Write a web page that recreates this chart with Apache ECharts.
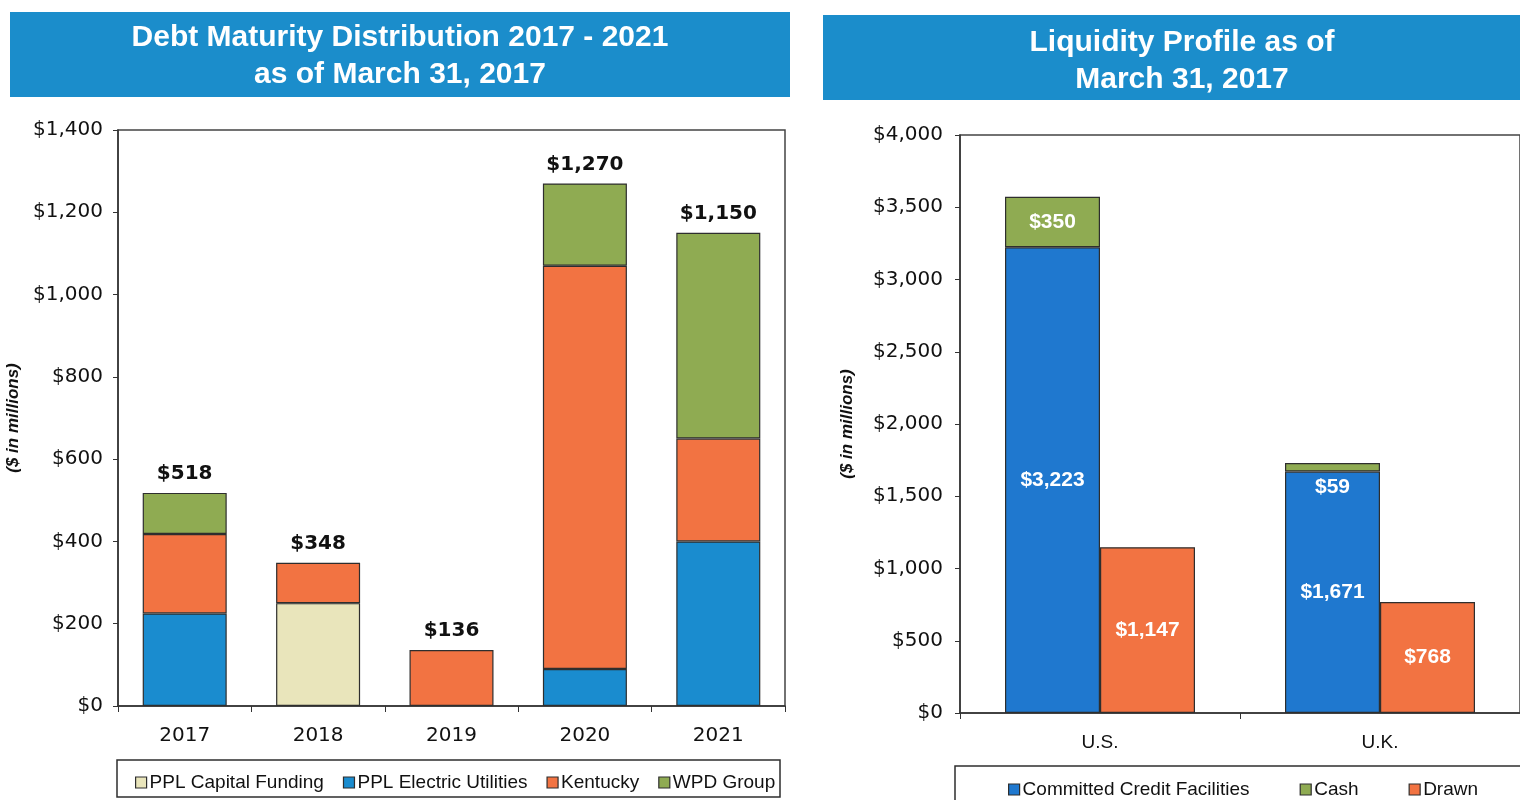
<!DOCTYPE html>
<html>
<head>
<meta charset="utf-8">
<script src="https://cdn.jsdelivr.net/npm/echarts@6/dist/echarts.min.js"></script>
<style>
html,body{margin:0;padding:0;background:#fff;}
#c{width:1520px;height:800px;}
</style>
</head>
<body>
<div id="c"></div>
<script>
// ---- Left chart data: Debt Maturity Distribution ($ in millions)
var years = ['2017', '2018', '2019', '2020', '2021'];
var capitalFunding = [null, 250, null, null, null];
var electricUtilities = [225, null, null, 90, 400];
var kentucky = [193, 98, 136, 980, 250];
var wpdGroup = [100, null, null, 200, 500];
var totalLabels = ['$518', '$348', '$136', '$1,270', '$1,150'];
var debtTicks = [0, 200, 400, 600, 800, 1000, 1200, 1400];

// ---- Right chart data: Liquidity Profile ($ in millions)
var regions = ['U.S.', 'U.K.'];
var committed = [3223, 1671];
var cash = [350, 59];
var drawn = [1147, 768];
var liqTicks = [0, 500, 1000, 1500, 2000, 2500, 3000, 3500, 4000];

var BANNER = '#1b8dcb';
var BLUE_L = '#1a8ccf';
var BLUE_R = '#1f78cf';
var ORANGE = '#f27342';
var GREEN = '#8fab52';
var BEIGE = '#e9e5bb';
var BORDER = '#2e2e2e';

function money(v) {
  return '$' + v.toLocaleString('en-US');
}

var chart = echarts.init(document.getElementById('c'), null, {renderer: 'canvas'});

var axisLabelFont = {color: '#111', fontFamily: 'DejaVu Sans', fontSize: 20};
var yNameStyle = {color: '#111', fontFamily: 'Liberation Sans', fontStyle: 'italic', fontWeight: 'bold', fontSize: 17};

function segStyle(color) {
  return {color: color, borderColor: BORDER, borderWidth: 1.2};
}

var titleFont = 'bold 30px "Liberation Sans", Arial, sans-serif';

var option = {
  animation: false,
  backgroundColor: '#fff',
  graphic: [
    {type: 'rect', shape: {x: 10, y: 12, width: 780, height: 85}, style: {fill: BANNER}, z: 0},
    {type: 'rect', shape: {x: 823, y: 15, width: 700, height: 85}, style: {fill: BANNER}, z: 0},
    {type: 'text', x: 400, y: 56, style: {text: 'Debt Maturity Distribution 2017 - 2021\nas of March 31, 2017', textAlign: 'center', textVerticalAlign: 'middle', fill: '#fff', font: titleFont, lineHeight: 37}, z: 5},
    {type: 'text', x: 1182, y: 61, style: {text: 'Liquidity Profile as of\nMarch 31, 2017', textAlign: 'center', textVerticalAlign: 'middle', fill: '#fff', font: titleFont, lineHeight: 37}, z: 5},
    {type: 'rect', shape: {x: 117, y: 760, width: 663, height: 37}, style: {fill: 'none', stroke: BORDER, lineWidth: 1.5}, z: 1},
    {type: 'rect', shape: {x: 955, y: 766, width: 600, height: 40}, style: {fill: 'none', stroke: BORDER, lineWidth: 1.5}, z: 1}
  ],
  legend: [
    {
      data: ['PPL Capital Funding', 'PPL Electric Utilities', 'Kentucky', 'WPD Group'],
      left: 130, top: 768, itemWidth: 11, itemHeight: 11, itemGap: 19,
      icon: 'rect',
      textStyle: {color: '#111', fontFamily: 'Liberation Sans', fontSize: 19, padding: [0, 0, 0, -2]},
      itemStyle: {borderColor: BORDER, borderWidth: 1.2}
    },
    {
      data: ['Committed Credit Facilities', 'Cash', 'Drawn'],
      left: 1003, top: 775, itemWidth: 11, itemHeight: 11, itemGap: 50,
      icon: 'rect',
      textStyle: {color: '#111', fontFamily: 'Liberation Sans', fontSize: 19, padding: [0, 0, 0, -2]},
      itemStyle: {borderColor: BORDER, borderWidth: 1.2}
    }
  ],
  grid: [
    {left: 118, top: 130, width: 667, height: 576, show: true, borderColor: '#444', borderWidth: 1.5, backgroundColor: '#fff'},
    {left: 960, top: 135, width: 566, height: 578, show: true, borderColor: '#444', borderWidth: 1.5, backgroundColor: '#fff'}
  ],
  xAxis: [
    {
      gridIndex: 0, type: 'category', data: years,
      axisLine: {lineStyle: {color: '#333', width: 1.5}},
      axisTick: {show: true, length: 6, lineStyle: {color: '#333'}},
      axisLabel: Object.assign({margin: 20}, axisLabelFont)
    },
    {
      gridIndex: 1, type: 'category', data: regions,
      axisLine: {lineStyle: {color: '#333', width: 1.5}},
      axisTick: {show: true, length: 6, lineStyle: {color: '#333'}},
      axisLabel: {margin: 20, color: '#111', fontFamily: 'Liberation Sans', fontSize: 19}
    }
  ],
  yAxis: [
    {
      gridIndex: 0, type: 'value', min: debtTicks[0], max: debtTicks[debtTicks.length - 1], interval: 200,
      name: '($ in millions)', nameLocation: 'middle', nameGap: 96, nameTextStyle: yNameStyle,
      axisLine: {show: true, lineStyle: {color: '#333', width: 1.5}},
      axisTick: {show: true, length: 5, lineStyle: {color: '#333'}},
      splitLine: {show: false},
      axisLabel: Object.assign({margin: 15, formatter: function (v) { return money(v); }}, axisLabelFont)
    },
    {
      gridIndex: 1, type: 'value', min: liqTicks[0], max: liqTicks[liqTicks.length - 1], interval: 500,
      name: '($ in millions)', nameLocation: 'middle', nameGap: 104, nameTextStyle: yNameStyle,
      axisLine: {show: true, lineStyle: {color: '#333', width: 1.5}},
      axisTick: {show: true, length: 5, lineStyle: {color: '#333'}},
      splitLine: {show: false},
      axisLabel: Object.assign({margin: 17, formatter: function (v) { return money(v); }}, axisLabelFont)
    }
  ],
  series: [
    {name: 'PPL Capital Funding', type: 'bar', stack: 'debt', xAxisIndex: 0, yAxisIndex: 0, barWidth: 84, data: capitalFunding, itemStyle: segStyle(BEIGE)},
    {name: 'PPL Electric Utilities', type: 'bar', stack: 'debt', xAxisIndex: 0, yAxisIndex: 0, barWidth: 84, data: electricUtilities, itemStyle: segStyle(BLUE_L)},
    {name: 'Kentucky', type: 'bar', stack: 'debt', xAxisIndex: 0, yAxisIndex: 0, barWidth: 84, data: kentucky, itemStyle: segStyle(ORANGE)},
    {name: 'WPD Group', type: 'bar', stack: 'debt', xAxisIndex: 0, yAxisIndex: 0, barWidth: 84, data: wpdGroup, itemStyle: segStyle(GREEN)},
    {
      name: 'Total', type: 'bar', stack: 'debt', xAxisIndex: 0, yAxisIndex: 0, barWidth: 84,
      data: years.map(function () { return 0; }),
      itemStyle: {color: 'rgba(0,0,0,0)', borderWidth: 0},
      label: {show: true, position: 'top', distance: 9, color: '#111', fontFamily: 'DejaVu Sans', fontWeight: 'bold', fontSize: 20,
        formatter: function (p) { return totalLabels[p.dataIndex]; }},
      silent: true
    },
    {
      name: 'Committed Credit Facilities', type: 'bar', stack: 'liq', xAxisIndex: 1, yAxisIndex: 1, barWidth: 95, barGap: '0%',
      data: committed, itemStyle: segStyle(BLUE_R),
      label: {show: true, position: 'inside', color: '#fff', fontFamily: 'Liberation Sans', fontWeight: 'bold', fontSize: 21,
        formatter: function (p) { return money(p.value); }}
    },
    {
      name: 'Cash', type: 'bar', stack: 'liq', xAxisIndex: 1, yAxisIndex: 1, barWidth: 95, barGap: '0%',
      data: cash.map(function (v, i) {
        return i === 1 ? {value: v, label: {position: 'bottom', distance: 5}} : v;
      }),
      itemStyle: segStyle(GREEN),
      label: {show: true, position: 'inside', color: '#fff', fontFamily: 'Liberation Sans', fontWeight: 'bold', fontSize: 21,
        formatter: function (p) { return money(p.value); }}
    },
    {
      name: 'Drawn', type: 'bar', xAxisIndex: 1, yAxisIndex: 1, barWidth: 95, barGap: '0%',
      data: drawn, itemStyle: segStyle(ORANGE),
      label: {show: true, position: 'inside', color: '#fff', fontFamily: 'Liberation Sans', fontWeight: 'bold', fontSize: 21,
        formatter: function (p) { return money(p.value); }}
    }
  ]
};
chart.setOption(option);
</script>
</body>
</html>
